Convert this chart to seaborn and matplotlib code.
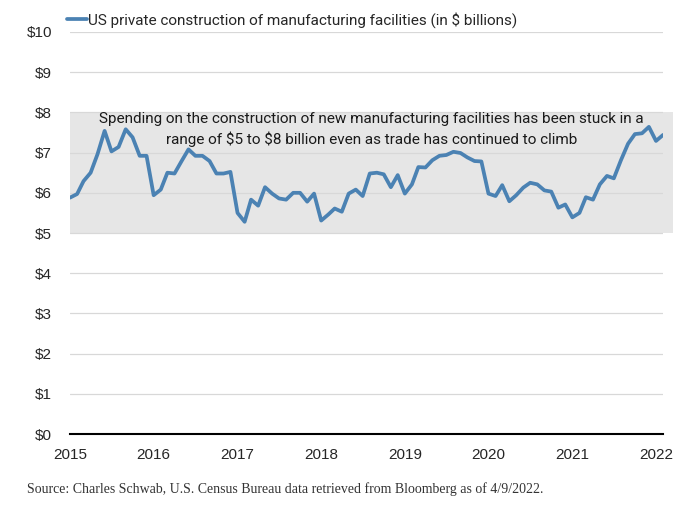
import pandas as pd
import numpy as np
import matplotlib.pyplot as plt
import matplotlib.dates as mdates
from matplotlib.patches import Rectangle
import seaborn as sns

# monthly spending, $ billions, Jan 2015 .. Feb 2022
spend_2015 = [5.88, 5.97, 6.29, 6.50, 6.96, 7.54, 7.03, 7.14, 7.58, 7.38, 6.92, 6.92]
spend_2016 = [5.94, 6.08, 6.50, 6.48, 6.78, 7.08, 6.92, 6.92, 6.79, 6.48, 6.48, 6.52]
spend_2017 = [5.50, 5.28, 5.83, 5.68, 6.14, 5.98, 5.86, 5.83, 6.00, 6.00, 5.78, 5.98]
spend_2018 = [5.31, 5.46, 5.61, 5.53, 5.98, 6.08, 5.92, 6.48, 6.50, 6.46, 6.14, 6.44]
spend_2019 = [5.98, 6.21, 6.64, 6.63, 6.81, 6.92, 6.94, 7.02, 6.99, 6.88, 6.79, 6.78]
spend_2020 = [5.98, 5.92, 6.19, 5.79, 5.94, 6.13, 6.25, 6.21, 6.06, 6.03, 5.63, 5.71]
spend_2021 = [5.39, 5.50, 5.89, 5.83, 6.21, 6.42, 6.36, 6.81, 7.22, 7.46, 7.48, 7.64]
spend_2022 = [7.29, 7.44]

spending = (spend_2015 + spend_2016 + spend_2017 + spend_2018 +
            spend_2019 + spend_2020 + spend_2021 + spend_2022)
months = pd.date_range('2015-01-01', periods=len(spending), freq='MS')
years = list(range(2015, 2023))
y_ticks = list(range(0, 11))
y_labels = ['\\$%d' % v for v in y_ticks]
range_low, range_high = 5, 8

series_name = 'US private construction of manufacturing facilities (in \\$ billions)'
note = ('Spending on the construction of new manufacturing facilities has been stuck in a\n'
        'range of \\$5 to \\$8 billion even as trade has continued to climb')
source = 'Source: Charles Schwab, U.S. Census Bureau data retrieved from Bloomberg as of 4/9/2022.'

df = pd.DataFrame({'month': months, 'spending': spending})

sns.set_style('white')
plt.rcParams['font.family'] = ['Liberation Sans', 'DejaVu Sans']

fig = plt.figure(figsize=(6.98, 5.15), dpi=100)
ax = fig.add_axes([0.1003, 0.157, 0.8497, 0.781])

blue = '#4b82b3'

# shaded "stuck" band, runs a bit past the end of the axis
x0 = mdates.date2num(pd.Timestamp('2015-01-01'))
x1 = mdates.date2num(pd.Timestamp('2022-03-15'))
ax.add_patch(Rectangle((x0, range_low), x1 - x0, range_high - range_low,
                       facecolor='#e6e6e6', edgecolor='none', zorder=0, clip_on=False))

for v in y_ticks[1:]:
    ax.axhline(v, color='#d8d8d8', lw=0.9, zorder=1)

sns.lineplot(data=df, x='month', y='spending', ax=ax, color=blue, lw=2.7,
             label=series_name, zorder=3)

ax.set_xlim(pd.Timestamp('2015-01-01'), pd.Timestamp('2022-02-01'))
ax.set_ylim(0, 10)
ax.set_xticks([pd.Timestamp('%d-01-01' % y) for y in years])
ax.set_xticklabels([str(y) for y in years], fontsize=11)
ax.set_yticks(y_ticks)
ax.set_yticklabels(y_labels, fontsize=11)
ax.set_xlabel('')
ax.set_ylabel('')

for s in ['top', 'right', 'left']:
    ax.spines[s].set_visible(False)
ax.spines['bottom'].set_color('black')
ax.spines['bottom'].set_linewidth(1.5)
ax.tick_params(axis='x', direction='out', length=6, width=1.3, color='black', pad=4)
ax.tick_params(axis='y', length=0, pad=13)

leg = ax.legend(loc='lower left', bbox_to_anchor=(-0.005, 1.01), frameon=False,
                borderpad=0, borderaxespad=0, handlelength=1.3, handletextpad=0.1,
                prop={'family': 'Roboto', 'size': 11})

ax.text(0.508, 0.757, note, transform=ax.transAxes, ha='center', va='center',
        fontsize=11, family='Roboto', color='#1a1a1a', linespacing=1.4, zorder=4)

fig.text(0.039, 0.043, source, fontsize=10, family='Liberation Serif', color='#333333')

fig.savefig('out.png', dpi=100)
